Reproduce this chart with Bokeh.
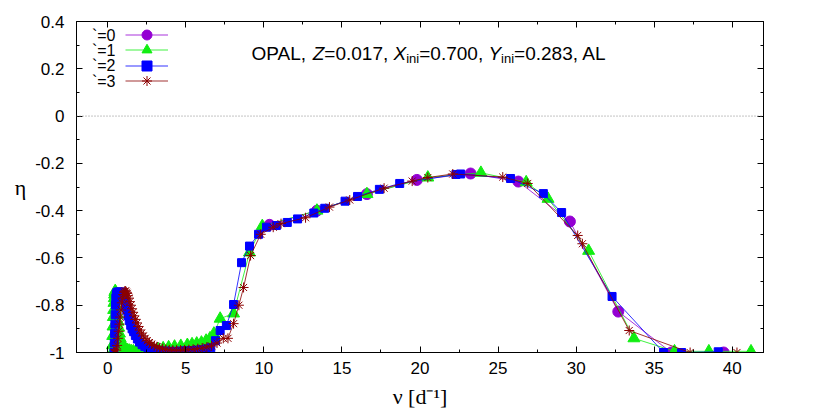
from bokeh.plotting import figure
from bokeh.models import (Range1d, FixedTicker, CustomJSTickFormatter, LinearAxis,
                          Span, Label, Legend, LegendItem)
from bokeh.embed import file_html
from bokeh.resources import INLINE

# ---------------- data ----------------
x_ticks = [0, 5, 10, 15, 20, 25, 30, 35, 40]
x_minor = [2.5 * k for k in range(0, 17)]
y_ticks = [-1.0, -0.8, -0.6, -0.4, -0.2, 0.0, 0.2, 0.4]
y_minor = [-0.9, -0.7, -0.5, -0.3, -0.1, 0.1, 0.3]

l0_freq = [10.36, 13.4, 16.6, 19.8, 23.24, 26.3, 29.6, 32.7, 36.1, 39.45]
l0_eta = [-0.46, -0.40, -0.33, -0.27, -0.243, -0.277, -0.446, -0.827, -1.0, -1.0]

l1_freq = [0.28, 0.30, 0.32, 0.34, 0.36, 0.38, 0.40, 0.42, 0.44, 0.46, 0.48, 0.50,
           0.53, 0.56, 0.59, 0.62, 0.66, 0.70, 0.75, 0.80, 0.86, 0.92, 1.00, 1.08,
           1.17, 1.27, 1.38, 1.50, 1.64, 1.80, 1.98, 2.18, 2.40, 2.65, 2.92, 3.22,
           3.55, 3.90, 4.28, 4.68, 5.10, 5.40, 5.70, 6.00, 6.30, 6.55, 6.80, 7.20,
           8.06, 9.08, 9.90, 13.4, 16.6, 20.5, 23.9, 26.8, 28.2, 30.8, 33.7, 36.3,
           38.5, 41.2]
l1_eta = [-1.00, -0.97, -0.93, -0.89, -0.85, -0.82, -0.79, -0.77, -0.755, -0.745, -0.74, -0.745,
          -0.76, -0.78, -0.81, -0.84, -0.87, -0.895, -0.92, -0.94, -0.955, -0.965, -0.975, -0.982,
          -0.987, -0.99, -0.992, -0.994, -0.995, -0.995, -0.994, -0.993, -0.992, -0.99, -0.988, -0.985,
          -0.982, -0.978, -0.975, -0.972, -0.968, -0.965, -0.962, -0.958, -0.95, -0.94, -0.92, -0.857,
          -0.835, -0.577, -0.465, -0.40, -0.33, -0.26, -0.24, -0.28, -0.35, -0.57, -0.94, -0.995,
          -0.995, -0.995]

l2_freq = [0.40, 0.42, 0.44, 0.46, 0.48, 0.50, 0.52, 0.55, 0.58, 0.62, 0.66, 0.70,
           0.75, 0.80, 0.85, 0.90, 0.95, 1.00, 1.05, 1.10, 1.16, 1.22, 1.30, 1.38,
           1.47, 1.56, 1.66, 1.77, 1.90, 2.04, 2.20, 2.38, 2.58, 2.80, 3.05, 3.32,
           3.62, 3.95, 4.30, 4.65, 5.00, 5.35, 5.70, 6.00, 6.30, 6.60, 6.90, 7.20,
           7.60, 8.06, 8.57, 9.08, 9.66, 10.17, 10.8, 11.5, 12.16, 13.2, 13.9, 15.2,
           16.0, 17.4, 18.7, 22.3, 22.6, 25.8, 27.9, 29.07, 32.3, 35.6, 36.75, 39.1]
l2_eta = [-1.00, -0.96, -0.92, -0.88, -0.84, -0.80, -0.77, -0.755, -0.748, -0.745, -0.745, -0.745,
          -0.745, -0.745, -0.745, -0.745, -0.75, -0.755, -0.765, -0.78, -0.80, -0.82, -0.845, -0.865,
          -0.885, -0.90, -0.912, -0.928, -0.943, -0.956, -0.967, -0.975, -0.982, -0.987, -0.99, -0.992,
          -0.994, -0.995, -0.995, -0.994, -0.993, -0.992, -0.99, -0.988, -0.985, -0.98, -0.95, -0.907,
          -0.886, -0.797, -0.62, -0.55, -0.50, -0.47, -0.463, -0.45, -0.435, -0.41, -0.39, -0.36,
          -0.34, -0.31, -0.285, -0.247, -0.245, -0.264, -0.328, -0.408, -0.763, -1.0, -1.0, -0.997]

l3_freq = [0.40, 0.45, 0.50, 0.55, 0.60, 0.65, 0.70, 0.75, 0.80, 0.85, 0.90, 0.95,
           1.00, 1.05, 1.10, 1.15, 1.20, 1.25, 1.30, 1.36, 1.42, 1.48, 1.55, 1.62,
           1.70, 1.78, 1.87, 1.96, 2.06, 2.17, 2.28, 2.40, 2.53, 2.67, 2.82, 2.98,
           3.15, 3.33, 3.52, 3.72, 3.94, 4.17, 4.41, 4.66, 4.92, 5.19, 5.47, 5.76,
           6.05, 6.35, 6.65, 7.00, 7.40, 7.70, 8.06, 8.40, 8.70, 9.15, 9.80, 10.6,
           11.1, 12.67, 14.2, 15.5, 17.7, 19.5, 20.5, 22.1, 25.3, 26.9, 30.1, 30.4,
           33.4, 37.3, 40.3]
l3_eta = [-1.00, -1.00, -1.00, -0.99, -0.97, -0.94, -0.91, -0.88, -0.85, -0.82, -0.79, -0.77,
          -0.755, -0.745, -0.74, -0.74, -0.745, -0.75, -0.76, -0.77, -0.785, -0.80, -0.815, -0.83,
          -0.845, -0.86, -0.875, -0.89, -0.905, -0.918, -0.93, -0.94, -0.95, -0.958, -0.965, -0.971,
          -0.976, -0.98, -0.984, -0.987, -0.989, -0.99, -0.99, -0.99, -0.989, -0.988, -0.986, -0.984,
          -0.981, -0.977, -0.972, -0.96, -0.94, -0.94, -0.878, -0.80, -0.725, -0.59, -0.50, -0.47,
          -0.455, -0.43, -0.385, -0.355, -0.305, -0.275, -0.26, -0.245, -0.258, -0.285, -0.505, -0.54,
          -0.907, -1.0, -1.0]

legend_labels = ["`=0", "`=1", "`=2", "`=3"]
title_parts = [("OPAL, ", "normal"), ("Z", "italic"), ("=0.017, ", "normal"),
               ("X", "italic"), ("ini", "sub"), ("=0.700, ", "normal"),
               ("Y", "italic"), ("ini", "sub"), ("=0.283, AL", "normal")]
x_label = "ν [d⁻¹]"
y_label = "η"

# ---------------- layout ----------------
X0, X1, Y0, Y1 = -2.0, 42.0, -1.0, 0.4
FL, FT, FW, FH = 76, 21, 687, 331
W, H = 828, 413


def xd(px):  # page px -> data x
    return X0 + (px - FL) * (X1 - X0) / FW


def yd(py):  # page px -> data y
    return Y1 - (py - FT) * (Y1 - Y0) / FH


p = figure(output_backend="svg", toolbar_location=None,
           frame_width=FW, frame_height=FH,
           min_border_left=FL, min_border_right=W - FL - FW,
           min_border_top=FT, min_border_bottom=H - FT - FH,
           x_range=Range1d(X0, X1), y_range=Range1d(Y0, Y1))
p.xgrid.visible = False
p.ygrid.visible = False
p.outline_line_color = "black"
p.outline_line_width = 1
p.background_fill_color = "white"
p.border_fill_color = "white"

yfmt = CustomJSTickFormatter(code="""
if (Math.abs(tick) < 1e-9) return '0';
if (Math.abs(tick + 1) < 1e-9) return '-1';
return tick.toFixed(1);
""")
blank = CustomJSTickFormatter(code="return '';")


def style(ax):
    ax.axis_line_color = "black"
    ax.major_tick_in = 6
    ax.major_tick_out = 0
    ax.minor_tick_in = 3
    ax.minor_tick_out = 0
    ax.major_tick_line_color = "black"
    ax.minor_tick_line_color = "black"
    ax.major_label_text_font = "Liberation Sans"
    ax.major_label_text_font_size = "17px"
    ax.major_label_text_color = "black"


p.xaxis.ticker = FixedTicker(ticks=x_ticks, minor_ticks=x_minor)
p.yaxis.ticker = FixedTicker(ticks=y_ticks, minor_ticks=y_minor)
p.yaxis.formatter = yfmt
style(p.xaxis[0])
style(p.yaxis[0])
p.xaxis.major_label_standoff = 9
p.yaxis.major_label_standoff = 12

xa = p.xaxis[0]
xa.axis_label = x_label
xa.axis_label_text_font = "Liberation Serif"
xa.axis_label_text_font_size = "22px"
xa.axis_label_text_font_style = "normal"
xa.axis_label_text_color = "black"
xa.axis_label_standoff = 7

ya = p.yaxis[0]
ya.axis_label = y_label
ya.axis_label_text_font = "Liberation Serif"
ya.axis_label_text_font_size = "22px"
ya.axis_label_text_font_style = "normal"
ya.axis_label_text_color = "black"
if "axis_label_orientation" in ya.properties():
    ya.axis_label_orientation = "horizontal"
    ya.axis_label_standoff = 6
else:
    ya.axis_label_standoff = 0

top = LinearAxis(ticker=FixedTicker(ticks=x_ticks, minor_ticks=x_minor), formatter=blank)
right = LinearAxis(ticker=FixedTicker(ticks=y_ticks, minor_ticks=y_minor), formatter=blank)
for ax in (top, right):
    style(ax)
    ax.major_label_standoff = 0
p.add_layout(top, "above")
p.add_layout(right, "right")

p.add_layout(Span(location=0, dimension="width", line_color="#888888",
                  line_dash="1 2", line_width=1))

# ---------------- series ----------------
specs = [
    (l0_freq, l0_eta, "#9400d3", "circle", 11),
    (l1_freq, l1_eta, "#11ee11", "triangle", 12),
    (l2_freq, l2_eta, "#0000ff", "square", 8),
    (l3_freq, l3_eta, "#8b0000", "asterisk", 10),
]
ROW0 = 34.5     # page y of first legend row centre
ROWSTEP = 15.4  # legend row pitch (px)
GH = 25         # legend glyph box height (sets marker size in legend)

for i, ((xs, ys, col, mk, sz), lab) in enumerate(zip(specs, legend_labels)):
    lr = p.line(xs, ys, line_color=col, line_width=1, line_alpha=0.8)
    sr = p.scatter(xs, ys, marker=mk, size=sz, fill_color=col, line_color=col,
                   line_width=1)
    row_c = ROW0 + i * ROWSTEP
    lg = Legend(items=[LegendItem(label="", renderers=[lr, sr])],
                location=(125 - FL, round((FT + FH) - (row_c + GH / 2))),
                glyph_width=43, glyph_height=GH, label_height=GH, spacing=0,
                padding=0, margin=0, label_standoff=0, label_width=1,
                border_line_color=None, background_fill_alpha=0,
                label_text_font_size="1px")
    p.add_layout(lg)
    p.add_layout(Label(x=xd(115), y=yd(row_c), text=lab,
                       text_font="Liberation Sans", text_font_size="16px",
                       text_align="right", text_baseline="middle",
                       text_color="black"))

# ---------------- title text ----------------
AR = {'O': .778, 'P': .667, 'A': .667, 'L': .556, ',': .278, ' ': .278, 'Z': .611,
      '=': .584, '0': .556, '.': .278, '1': .556, '7': .556, 'X': .667, 'i': .222,
      'n': .556, 'Y': .667, '2': .556, '8': .556, '3': .556}
cur = 251.0
base = 53.0
for txt, kind in title_parts:
    size = 13 if kind == "sub" else 19
    yy = base + (4.5 if kind == "sub" else 0)
    p.add_layout(Label(x=xd(cur), y=yd(yy), text=txt, text_font="Liberation Sans",
                       text_font_size=f"{size}px",
                       text_font_style="italic" if kind == "italic" else "normal",
                       text_align="left", text_baseline="alphabetic",
                       text_color="black"))
    cur += sum(AR[c] for c in txt) * size

open("out.html", "w").write(file_html(p, INLINE))
